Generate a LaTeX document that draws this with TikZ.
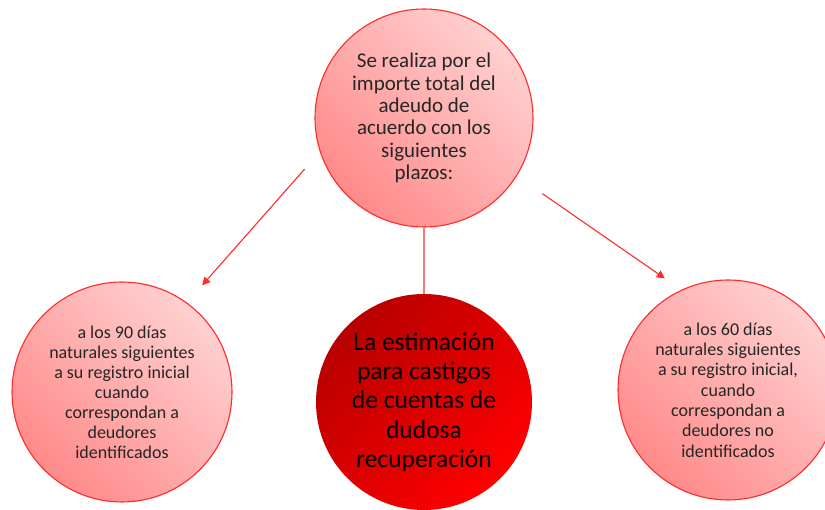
\documentclass[tikz,border=0pt]{standalone}
\usepackage{fontspec}
\setmainfont{Carlito}
\usepackage{xcolor}
\usetikzlibrary{arrows.meta}

\definecolor{rimred}{HTML}{FF2A2A}
\definecolor{palepink}{HTML}{FFD0D0}
\definecolor{deeppink}{HTML}{FF8A8A}
\definecolor{darkcore}{HTML}{B80000}
\definecolor{brightcore}{HTML}{FF0000}
\definecolor{linkred}{HTML}{FF7272}
\definecolor{inkgray}{HTML}{262626}

\begin{document}
\begin{tikzpicture}[x=1pt, y=1pt,
    bubble/.style={circle, draw=rimred, line width=1.1pt, inner sep=0pt,
      top color=palepink, bottom color=deeppink, shading angle=-45,
      align=center, text=inkgray},
    corebubble/.style={circle, draw=none, inner sep=0pt,
      top color=darkcore, bottom color=brightcore, shading angle=45,
      align=center, text=black},
    arrow/.style={draw=rimred, line width=1.1pt, -{Triangle[length=8pt, width=8pt]}}]
    \useasboundingbox (0,0) rectangle (825,510);
    \node[bubble, minimum size=218pt, font=\fontsize{21}{22.3}\selectfont] (plazos) at (424,392)
      {Se realiza por el\\importe total del\\adeudo de\\acuerdo con los\\siguientes\\plazos:};
    \node[corebubble, minimum size=216pt, font=\fontsize{25.5}{29.3}\selectfont] (estim) at (424,108)
      {La estimación\\para castigos\\de cuentas de\\dudosa\\recuperación};
    \node[bubble, minimum size=220pt, font=\fontsize{18}{20}\selectfont] (noventa) at (122,118)
      {a los 90 días\\naturales siguientes\\a su registro inicial\\cuando\\correspondan a\\deudores\\identificados};
    \node[bubble, minimum size=220pt, font=\fontsize{18}{20.3}\selectfont] (sesenta) at (728,120)
      {a los 60 días\\naturales siguientes\\a su registro inicial,\\cuando\\correspondan a\\deudores no\\identificados};
    \draw[linkred, line width=2pt] (plazos.south) -- (estim.north);
    \draw[arrow, shorten <=23pt, shorten >=23pt] (plazos.198.5) -- (noventa.54.4);
    \draw[arrow, shorten <=31pt, shorten >=20pt] (plazos.328.3) -- (sesenta.115.1);
\end{tikzpicture}
\end{document}
